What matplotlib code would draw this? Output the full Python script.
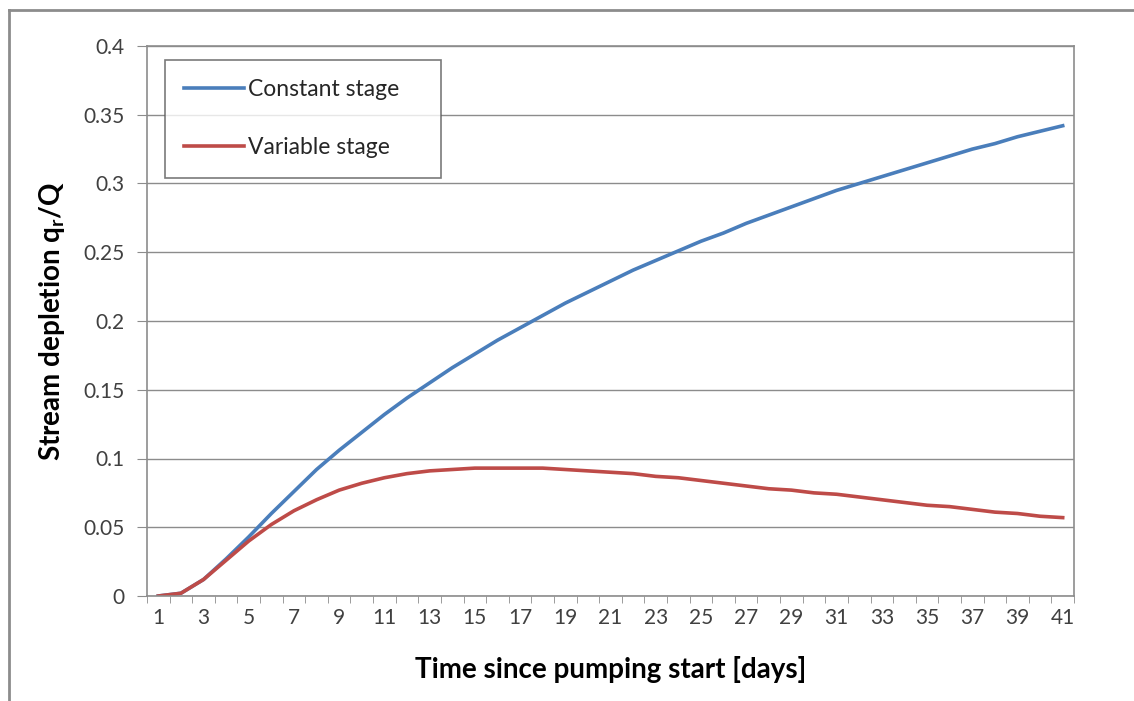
import numpy as np
import matplotlib.pyplot as plt
from matplotlib.lines import Line2D

plt.rcParams['font.family'] = ['Lato', 'DejaVu Sans']
plt.rcParams['mathtext.fontset'] = 'custom'
plt.rcParams['mathtext.rm'] = 'Lato'
plt.rcParams['mathtext.bf'] = 'Lato:bold'

# days since pumping start
days = list(range(1, 42))

constant_stage = [0.0, 0.002, 0.012, 0.027, 0.043, 0.060, 0.076, 0.092, 0.106, 0.119,
                  0.132, 0.144, 0.155, 0.166, 0.176, 0.186, 0.195, 0.204, 0.213, 0.221,
                  0.229, 0.237, 0.244, 0.251, 0.258, 0.264, 0.271, 0.277, 0.283, 0.289,
                  0.295, 0.300, 0.305, 0.310, 0.315, 0.320, 0.325, 0.329, 0.334, 0.338,
                  0.342]

variable_stage = [0.0, 0.002, 0.012, 0.026, 0.040, 0.052, 0.062, 0.070, 0.077, 0.082,
                  0.086, 0.089, 0.091, 0.092, 0.093, 0.093, 0.093, 0.093, 0.092, 0.091,
                  0.090, 0.089, 0.087, 0.086, 0.084, 0.082, 0.080, 0.078, 0.077, 0.075,
                  0.074, 0.072, 0.070, 0.068, 0.066, 0.065, 0.063, 0.061, 0.060, 0.058,
                  0.057]

W, H = 1134, 701
fig = plt.figure(figsize=(W / 100, H / 100), dpi=100)
fig.patch.set_facecolor('white')

# outer chart frame (left and top only visible)
fig.add_artist(Line2D([9 / W, 9 / W], [0, 1 - 10 / H], transform=fig.transFigure,
                      color='#8c8c8c', lw=2))
fig.add_artist(Line2D([9 / W, 1], [1 - 10 / H, 1 - 10 / H], transform=fig.transFigure,
                      color='#8c8c8c', lw=2))

ax = fig.add_axes([147 / W, 1 - 596 / H, (1074 - 147) / W, (596 - 46) / H])

ax.plot(days, constant_stage, color='#4A7EBB', lw=2.6, label='Constant stage')
ax.plot(days, variable_stage, color='#BE4B48', lw=2.6, label='Variable stage')

ax.set_xlim(0.5, 41.5)
ax.set_ylim(0, 0.4)

ax.set_yticks(np.arange(0, 0.401, 0.05))
ax.set_yticklabels(['0', '0.05', '0.1', '0.15', '0.2', '0.25', '0.3', '0.35', '0.4'])
ax.set_xticks(days[::2])
ax.set_xticks(np.arange(0.5, 41.6, 1), minor=True)

ax.grid(axis='y', color='#8c8c8c', lw=1)
ax.set_axisbelow(True)

for s in ax.spines.values():
    s.set_color('#8c8c8c')
    s.set_linewidth(1.2)

ax.tick_params(axis='y', which='major', length=7, color='#8c8c8c', labelsize=15,
               labelcolor='#404040', pad=9)
ax.tick_params(axis='x', which='major', length=0, labelsize=15, labelcolor='#404040', pad=9)
ax.tick_params(axis='x', which='minor', length=5, color='#8c8c8c')

ax.set_xlabel('Time since pumping start [days]', fontsize=20, fontweight='bold', labelpad=20)
ax.set_ylabel('Stream depletion q$_\\mathbf{r}$/Q', fontsize=20, fontweight='bold', labelpad=12)

leg = ax.legend(loc='upper left', bbox_to_anchor=(18 / 927, 1 - 131 / 550, 276 / 927, 117 / 550),
                mode='expand', fontsize=16.5,
                frameon=True, fancybox=False, edgecolor='#595959', labelspacing=1.6,
                handlelength=2.6, handletextpad=0.15, borderpad=0.85, borderaxespad=0)
leg.get_frame().set_linewidth(1.2)
for t in leg.get_texts():
    t.set_color('#262626')

fig.savefig('out.png', dpi=100)
